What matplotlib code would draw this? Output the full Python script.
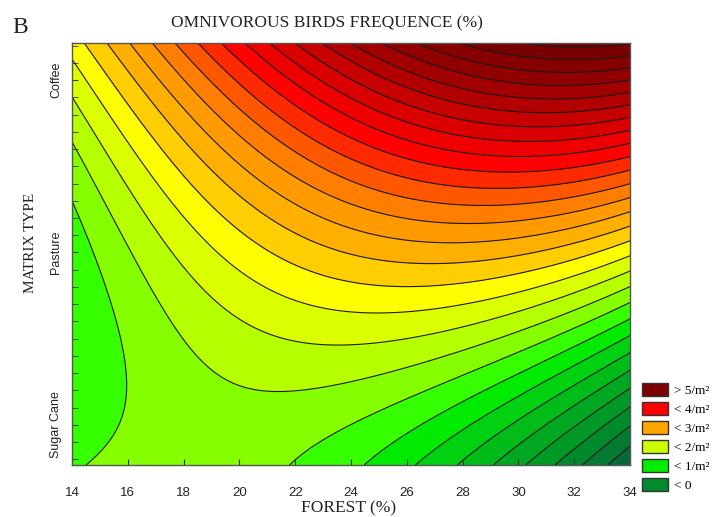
import numpy as np
import matplotlib
matplotlib.use("Agg")
import matplotlib.pyplot as plt
from matplotlib.colors import LinearSegmentedColormap, Normalize
from matplotlib.patches import Patch
from matplotlib.ticker import MultipleLocator

# axes
forest_ticks = [14, 16, 18, 20, 22, 24, 26, 28, 30, 32, 34]
matrix_types = ["Sugar Cane", "Pasture", "Coffee"]
matrix_codes = [1, 2, 3]

# fitted response surface
# z = c0 + c1*u + c2*v + c3*u^2 + c4*u*v + c5*v^2 + c6*u*v^2 + c7*u^3*v
# u = forest - 24, v = 0..1 from bottom to top of the matrix axis
surface_coef = [0.804, -0.1097, 1.842, -0.00938, 0.3598, 2.11, -0.015, -0.0004]
contour_step = 0.25

legend_labels = ["> 5/m²", "< 4/m²", "< 3/m²", "< 2/m²", "< 1/m²", "< 0"]
legend_colors = ["#7f0000", "#ff0000", "#ffa500", "#ccff00", "#00ee00", "#008a2c"]

# statistica-like spectrum: dark green -> green -> yellow -> orange -> red -> dark red
zmin, zmax = -1.5, 6.0
spectrum = [
    (-1.5, "#0a5a38"), (-1.125, "#086a38"), (-0.625, "#008a2c"), (-0.125, "#00a820"),
    (0.375, "#00d010"), (0.625, "#00ec00"), (0.875, "#33ff00"), (1.125, "#88ff00"),
    (1.375, "#b4ff00"), (1.625, "#ddff00"), (1.875, "#ffff00"), (2.125, "#ffcc00"),
    (2.375, "#ffb000"), (2.625, "#ff9900"), (2.875, "#ff7f00"), (3.125, "#ff5500"),
    (3.375, "#ff2a00"), (3.625, "#ff0000"), (3.875, "#f00000"), (4.125, "#dd0000"),
    (4.375, "#c80000"), (4.625, "#b40000"), (4.875, "#a20000"), (5.125, "#920000"),
    (5.375, "#860000"), (5.625, "#7a0000"), (6.0, "#6e0000"),
]
cmap = LinearSegmentedColormap.from_list(
    "spec", [((z - zmin) / (zmax - zmin), col) for z, col in spectrum]
)
norm = Normalize(zmin, zmax)

fig = plt.figure(figsize=(7.2, 5.17), dpi=100)
ax = fig.add_axes([0.1, 0.1006, 0.775, 0.8162])

ylo, yhi = 0.767, 3.215
X, M = np.meshgrid(np.linspace(14, 34, 400), np.linspace(ylo, yhi, 400))
u = X - 24
v = (M - ylo) / (yhi - ylo)
c = surface_coef
Z = (c[0] + c[1] * u + c[2] * v + c[3] * u ** 2 + c[4] * u * v
     + c[5] * v ** 2 + c[6] * u * v ** 2 + c[7] * u ** 3 * v)

levels = np.arange(zmin, zmax + 0.01, contour_step)
ax.contourf(X, M, Z, levels=levels, cmap=cmap, norm=norm)
ax.contour(X, M, Z, levels=levels, colors="#1a1a1a", linewidths=0.8,
           negative_linestyles="solid")

ax.set_xlim(14, 34)
ax.set_ylim(ylo, yhi)
ax.set_xticks(forest_ticks)
ax.set_yticks(matrix_codes)
ax.set_yticklabels(matrix_types, rotation=90, va="center")
ax.yaxis.set_minor_locator(MultipleLocator(0.1))
for lab in ax.get_xticklabels() + ax.get_yticklabels():
    lab.set_family("Liberation Sans")
ax.tick_params(which="both", direction="in", length=4, color="#333333",
               labelsize=9.5, labelcolor="#222222")
ax.tick_params(axis="x", pad=16)
ax.tick_params(axis="y", pad=7, labelsize=9)
for s in ax.spines.values():
    s.set_color("#555555")
    s.set_linewidth(1.0)

serif = "Liberation Serif"
fig.text(12 / 720, 1 - 33 / 517, "B", family=serif, size=17, color="#222222")
fig.text(327 / 720, 1 - 27 / 517, "OMNIVOROUS BIRDS FREQUENCE (%)", family=serif,
         size=12.5, ha="center", va="baseline", color="#222222")
fig.text(349 / 720, 1 - 508 / 517, "FOREST (%)", family=serif, size=12.5,
         ha="center", va="center", color="#222222")
fig.text(30 / 720, 1 - 243 / 517, "MATRIX TYPE", family=serif, size=11,
         ha="center", va="center", rotation=90, color="#222222")

handles = [Patch(facecolor=col, edgecolor="#333333", linewidth=1) for col in legend_colors]
fs = 9.5 * 100 / 72
fig.legend(handles, legend_labels, loc="upper left",
           bbox_to_anchor=(642 / 720, 1 - 383 / 517), frameon=False,
           borderpad=0, borderaxespad=0, prop={"family": serif, "size": 9.5},
           handlelength=26 / fs, handleheight=15 / fs, labelspacing=5 / fs,
           handletextpad=6 / fs)

fig.savefig("out.png", dpi=100)
